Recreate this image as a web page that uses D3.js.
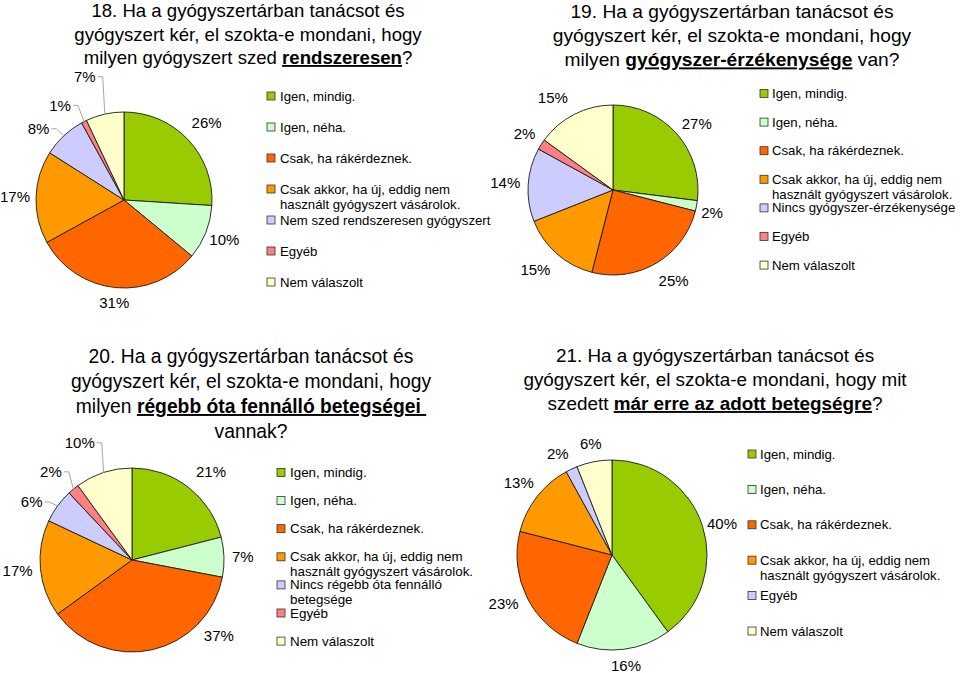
<!DOCTYPE html>
<html><head><meta charset="utf-8">
<script src="https://cdn.jsdelivr.net/npm/d3@7"></script>
<style>
body{margin:0;background:#fff;}
svg{display:block;font-family:"Liberation Sans",Arial,sans-serif;}
</style></head><body>
<svg id="chart" width="960" height="673"></svg>
<script>
// ---------------- DATA ----------------
const palette7 = ["#99CC00","#CCFFCC","#FF6600","#FF9900","#CCCCFF","#FF8080","#FFFFCC"];
const palette6 = ["#99CC00","#CCFFCC","#FF6600","#FF9900","#CCCCFF","#FFFFCC"];

const title18 = [
  [["18. Ha a gyógyszertárban tanácsot és", false]],
  [["gyógyszert kér, el szokta-e mondani, hogy", false]],
  [["milyen gyógyszert szed ", false], ["rendszeresen", true], ["?", false]]
];
const categories18 = ["Igen, mindig.", "Igen, néha.", "Csak, ha rákérdeznek.",
  "Csak akkor, ha új, eddig nem\nhasznált gyógyszert vásárolok.",
  "Nem szed rendszeresen gyógyszert", "Egyéb", "Nem válaszolt"];
const values18 = [26, 10, 31, 17, 8, 1, 7];

const title19 = [
  [["19. Ha a gyógyszertárban tanácsot és", false]],
  [["gyógyszert kér, el szokta-e mondani, hogy", false]],
  [["milyen ", false], ["gyógyszer-érzékenysége", true], [" van?", false]]
];
const categories19 = ["Igen, mindig.", "Igen, néha.", "Csak, ha rákérdeznek.",
  "Csak akkor, ha új, eddig nem\nhasznált gyógyszert vásárolok.",
  "Nincs gyógyszer-érzékenysége", "Egyéb", "Nem válaszolt"];
const values19 = [27, 2, 25, 15, 14, 2, 15];

const title20 = [
  [["20. Ha a gyógyszertárban tanácsot és", false]],
  [["gyógyszert kér, el szokta-e mondani, hogy", false]],
  [["milyen ", false], ["régebb óta fennálló betegségei ", true]],
  [["vannak?", false]]
];
const categories20 = ["Igen, mindig.", "Igen, néha.", "Csak, ha rákérdeznek.",
  "Csak akkor, ha új, eddig nem\nhasznált gyógyszert vásárolok.",
  "Nincs régebb óta fennálló\nbetegsége", "Egyéb", "Nem válaszolt"];
const values20 = [21, 7, 37, 17, 6, 2, 10];

const title21 = [
  [["21. Ha a gyógyszertárban tanácsot és", false]],
  [["gyógyszert kér, el szokta-e mondani, hogy mit", false]],
  [["szedett ", false], ["már erre az adott betegségre", true], ["?", false]]
];
const categories21 = ["Igen, mindig.", "Igen, néha.", "Csak, ha rákérdeznek.",
  "Csak akkor, ha új, eddig nem\nhasznált gyógyszert vásárolok.",
  "Egyéb", "Nem válaszolt"];
const values21 = [40, 16, 23, 13, 2, 6];

// ---------------- LAYOUT ----------------
const charts = [
  { title: title18, cats: categories18, vals: values18, colors: palette7,
    cx: 124, cy: 200, r: 88,
    titleX: 248, titleY: 17, titleLH: 23.5, titleFS: 18.6,
    legSqX: 267, legTxtX: 280, legY0: 96, legStep: 31, legFS: 13.2,
    adjust: [[0,4],[0,-4],[0,-2],[0,-4],[-7,4],[-7,8],[-5,24]],
    leader: [0,0,0,0,1,1,1], maxLabelY: 700 },
  { title: title19, cats: categories19, vals: values19, colors: palette7,
    cx: 613, cy: 190, r: 85,
    titleX: 732, titleY: 18, titleLH: 24.2, titleFS: 19.2,
    legSqX: 760, legTxtX: 772, legY0: 93.5, legStep: 28.6, legFS: 13.2,
    adjust: [[3,0],[2,-4],[-3,5],[3,5],[0,-2],[0,0],[-6,6]],
    leader: [0,0,0,0,0,0,0], maxLabelY: 700 },
  { title: title20, cats: categories20, vals: values20, colors: palette7,
    cx: 132, cy: 560, r: 92,
    titleX: 251, titleY: 363, titleLH: 25, titleFS: 19.3,
    legSqX: 277, legTxtX: 290, legY0: 472.5, legStep: 28.1, legFS: 13.4,
    adjust: [[4,6],[0,-2],[0,6],[0,-2],[-6,4],[-3,9],[-6,18]],
    leader: [0,0,0,0,1,1,1], maxLabelY: 643 },
  { title: title21, cats: categories21, vals: values21, colors: palette6,
    cx: 612, cy: 555, r: 95,
    titleX: 715, titleY: 362, titleLH: 24, titleFS: 18.9,
    legSqX: 748, legTxtX: 760, legY0: 454, legStep: 35.4, legFS: 13.2,
    adjust: [[2,-5],[0,0],[3,0],[0,1],[-3,2],[0,1]],
    leader: [0,0,0,0,0,0], maxLabelY: 700 }
];

const svg = d3.select("#chart");
const labelFS = 15, gap = 10;

charts.forEach(ch => {
  const g = svg.append("g");

  // title
  ch.title.forEach((line, i) => {
    const t = g.append("text")
      .attr("x", ch.titleX).attr("y", ch.titleY + i * ch.titleLH)
      .attr("text-anchor", "middle")
      .style("font-size", ch.titleFS + "px")
      .style("white-space", "pre")
      .attr("fill", "#000");
    line.forEach(([txt, emph]) => {
      const ts = t.append("tspan").text(txt);
      if (emph) ts.style("font-weight", "bold").style("text-decoration", "underline");
    });
  });

  // pie
  const pie = d3.pie().sort(null).value(d => d)(ch.vals);
  const arc = d3.arc().innerRadius(0).outerRadius(ch.r);
  const pg = g.append("g").attr("transform", `translate(${ch.cx},${ch.cy})`);
  pg.selectAll("path").data(pie).join("path")
    .attr("d", arc)
    .attr("fill", (d, i) => ch.colors[i])
    .attr("stroke", "#1a1a1a").attr("stroke-width", 0.9);

  // labels
  pie.forEach((d, i) => {
    const [dA, dR] = ch.adjust[i];
    const mid = (d.startAngle + d.endAngle) / 2;
    const a = mid + dA * Math.PI / 180;
    const txt = g.append("text").text(d.value + "%")
      .style("font-size", labelFS + "px").attr("fill", "#000")
      .attr("text-anchor", "middle").attr("dy", "0.35em");
    const hw = txt.node().getComputedTextLength() / 2;
    const hh = 7;
    let s = Math.sin(a), c = Math.cos(a);
    const dist = ch.r + gap + hw * s * s + hh * c * c + dR;
    let x = ch.cx + dist * s, y = ch.cy - dist * c;
    if (y + hh > ch.maxLabelY) {
      y = ch.maxLabelY - hh;
      const dy = y - ch.cy;
      const dx = Math.sqrt(Math.max(0, dist * dist - dy * dy));
      x = ch.cx + (s >= 0 ? dx : -dx);
    }
    txt.attr("x", x).attr("y", y);
    if (ch.leader[i]) {
      const px = ch.cx + ch.r * Math.sin(mid), py = ch.cy - ch.r * Math.cos(mid);
      const x0 = x + hw + 2, x1 = x + hw + 7;
      g.append("polyline")
        .attr("points", `${x0},${y} ${x1},${y} ${px},${py}`)
        .attr("fill", "none").attr("stroke", "#a6a6a6").attr("stroke-width", 1);
    }
  });

  // legend
  ch.cats.forEach((cat, i) => {
    const yc = ch.legY0 + i * ch.legStep;
    g.append("rect")
      .attr("x", ch.legSqX).attr("y", yc - 4).attr("width", 8).attr("height", 8)
      .attr("fill", ch.colors[i]).attr("stroke", "#333").attr("stroke-width", 0.8);
    const t = g.append("text")
      .attr("x", ch.legTxtX).attr("y", yc + 4.5)
      .style("font-size", ch.legFS + "px").attr("fill", "#000");
    cat.split("\n").forEach((ln, j) => {
      t.append("tspan").attr("x", ch.legTxtX).attr("dy", j === 0 ? 0 : 15).text(ln);
    });
  });
});
</script>
</body></html>
